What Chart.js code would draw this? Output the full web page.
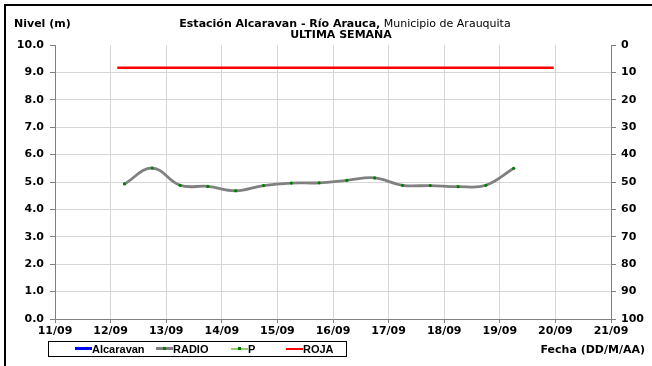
<!DOCTYPE html>
<html><head><meta charset="utf-8">
<script src="https://cdn.jsdelivr.net/npm/chart.js@4/dist/chart.umd.min.js"></script>
<style>
html,body{margin:0;padding:0;background:#fff;width:652px;height:366px;overflow:hidden;font-family:"DejaVu Sans",sans-serif;}
#wrap{position:relative;width:652px;height:366px;}
#frame{position:absolute;left:4px;top:4px;width:700px;height:400px;border-left:2px solid #000;border-top:2px solid #000;}
#c{position:absolute;left:0;top:0;}
.t{position:absolute;white-space:nowrap;font-size:11px;color:#000;line-height:12px;}
.b{font-weight:bold;}
#legend{position:absolute;left:48px;top:341px;width:299px;height:16px;border:1px solid #000;box-sizing:border-box;}
.li{position:absolute;top:1px;font-family:"Liberation Sans",Arial,sans-serif;font-size:11px;font-weight:bold;line-height:13px;}
.sw{position:absolute;top:6px;width:17px;height:2px;}
.dot{position:absolute;left:7px;width:3px;height:3px;background:#008000;}
</style></head>
<body><div id="wrap">
<div id="frame"></div>
<canvas id="c" width="652" height="366"></canvas>
<div class="t b" style="left:14px;top:18px;">Nivel (m)</div>
<div class="t" style="left:0;width:690px;text-align:center;top:18px;"><b>Estación Alcaravan - Río Arauca,</b> Municipio de Arauquita</div>
<div class="t b" style="left:0;width:682px;text-align:center;top:29px;">ULTIMA SEMANA</div>
<div class="t b" style="right:7px;top:344px;">Fecha (DD/M/AA)</div>
<div id="legend">
  <div class="sw" style="left:26px;background:#0000ff;height:3px;top:5px;"></div><div class="li" style="left:43px;">Alcaravan</div>
  <div class="sw" style="left:107px;background:#808080;height:3px;top:5px;"><div class="dot" style="top:0;"></div></div><div class="li" style="left:124px;">RADIO</div>
  <div class="sw" style="left:182px;background:#99cc66;"><div class="dot" style="top:-1px;"></div></div><div class="li" style="left:199px;">P</div>
  <div class="sw" style="left:237px;background:#ff0000;"></div><div class="li" style="left:254px;">ROJA</div>
</div>
</div>
<script>
// Day labels (x axis, days since 11/09)
const dayLabels = ['11/09','12/09','13/09','14/09','15/09','16/09','17/09','18/09','19/09','20/09','21/09'];
// RADIO series: time in days since 11/09 00:00, level in m
const radioDays = [1.25,1.75,2.25,2.75,3.25,3.75,4.25,4.75,5.25,5.75,6.25,6.75,7.25,7.75,8.25];
const radioLevel = [4.93,5.51,4.88,4.84,4.68,4.87,4.96,4.97,5.06,5.15,4.88,4.87,4.83,4.88,5.50];
// P series (no visible points)
const pDays = [];
const pLevel = [];
// Alcaravan series (no visible points)
const alcDays = [];
const alcLevel = [];
// ROJA alert level
const rojaDays = [1.12, 8.97];
const rojaLevel = [9.17, 9.17];
// Tick labels
const leftTicks = [0,1,2,3,4,5,6,7,8,9,10];
const rightTicks = [0,10,20,30,40,50,60,70,80,90,100];

const pts = (xs, ys) => xs.map((x,i)=>({x:x,y:ys[i]}));
const font = {family:'"DejaVu Sans", sans-serif', size:11, weight:'bold'};
const gridCol = '#d6d6d6', axisCol = '#808080';

new Chart(document.getElementById('c'), {
  type:'line',
  data:{datasets:[
    {label:'Alcaravan', data:pts(alcDays,alcLevel), borderColor:'#0000ff', borderWidth:2, pointRadius:0},
    {label:'RADIO', data:pts(radioDays,radioLevel), borderColor:'#808080', borderWidth:2.8, tension:0.4,
      pointRadius:1.6, pointBackgroundColor:'#008000', pointBorderColor:'#008000', pointBorderWidth:0},
    {label:'P', data:pts(pDays,pLevel), borderColor:'#99cc66', borderWidth:1, pointRadius:1.5, pointBackgroundColor:'#008000'},
    {label:'ROJA', data:pts(rojaDays,rojaLevel), borderColor:'#ff0000', borderWidth:2.3, pointRadius:0}
  ]},
  options:{
    responsive:false, animation:false, devicePixelRatio:1,
    layout:{padding:{top:45,left:0,right:0,bottom:0}},
    plugins:{legend:{display:false}, tooltip:{enabled:false}},
    scales:{
      x:{type:'linear', min:0, max:10,
        ticks:{stepSize:1, font:font, color:'#000', padding:2, maxRotation:0, autoSkip:false,
          callback:(v)=>dayLabels[v]},
        grid:{color:gridCol, tickColor:axisCol, tickLength:4},
        border:{color:axisCol, width:1},
        afterFit:(s)=>{s.height=47;}
      },
      y:{position:'left', min:0, max:10,
        afterBuildTicks:(s)=>{s.ticks=leftTicks.map(v=>({value:v}));},
        ticks:{font:font, color:'#000', padding:6, callback:(v)=>v.toFixed(1)},
        grid:{color:(c)=>c.tick && c.tick.value===10?'rgba(0,0,0,0)':gridCol, tickColor:axisCol, tickLength:5},
        border:{color:axisCol, width:1},
        afterFit:(s)=>{s.width=55;}
      },
      y2:{position:'right', min:0, max:100, reverse:true,
        afterBuildTicks:(s)=>{s.ticks=rightTicks.map(v=>({value:v}));},
        ticks:{font:font, color:'#000', padding:5},
        grid:{drawOnChartArea:false, tickColor:axisCol, tickLength:5},
        border:{color:axisCol, width:1},
        afterFit:(s)=>{s.width=41;}
      }
    }
  }
});
</script>
</body></html>
